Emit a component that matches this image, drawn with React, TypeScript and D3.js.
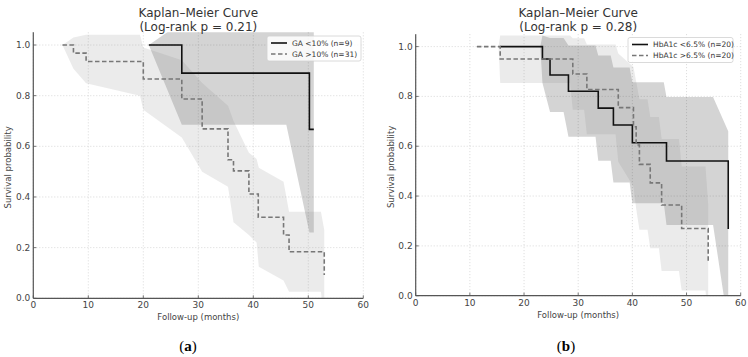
import React from "react";
import * as d3 from "d3";

// ---------- Panel (a): GA ----------
const gaLowTime = [21, 27, 50.2, 51];
const gaLowSurv = [1.0, 0.889, 0.667, 0.667];
const gaLowBandTime = [21, 27, 46.0, 50.2, 51];
const gaLowBandLo = [1.0, 0.685, 0.685, 0.26, 0.26];
const gaLowBandHi = [1.0, 1.09, 1.09, 1.07, 1.07];

const gaHighTime = [5.3, 7.3, 9.6, 20.0, 27.0, 30.7, 35.4, 36.4, 39.2, 40.9, 45.5, 46.5, 52.9];
const gaHighSurv = [1.0, 0.968, 0.935, 0.866, 0.787, 0.669, 0.547, 0.503, 0.412, 0.32, 0.25, 0.184, 0.092];
const gaHighBandTime = [5.3, 7.3, 9.6, 19.4, 20.0, 27.0, 30.7, 35.4, 36.4, 39.2, 40.6, 41.0, 45.5, 46.5, 52.3, 52.9];
const gaHighBandLo = [1.0, 0.906, 0.849, 0.8, 0.744, 0.635, 0.5, 0.44, 0.3, 0.25, 0.22, 0.125, 0.07, 0.026, 0.026, -0.09];
const gaHighBandHi = [1.0, 1.03, 1.04, 1.04, 0.99, 0.94, 0.85, 0.76, 0.7, 0.575, 0.55, 0.515, 0.46, 0.342, 0.342, 0.27];

// ---------- Panel (b): HbA1c ----------
const hbLowTime = [15.6, 23.4, 24.8, 28.2, 33.7, 36.5, 40.0, 46.3, 57.7];
const hbLowSurv = [1.0, 0.95, 0.886, 0.821, 0.753, 0.685, 0.614, 0.541, 0.268];
const hbLowBandTime = [15.6, 23.0, 23.4, 24.8, 27.3, 28.2, 33.2, 33.7, 36.0, 36.5, 39.5, 40.0, 45.8, 46.3, 54.9, 57.7];
const hbLowBandLo = [1, 1, 0.854, 0.737, 0.737, 0.638, 0.638, 0.542, 0.542, 0.454, 0.454, 0.371, 0.371, 0.284, 0.284, -0.12];
const hbLowBandHi = [1, 1, 1.045, 1.035, 1.035, 1.004, 1.004, 0.964, 0.964, 0.916, 0.916, 0.857, 0.857, 0.798, 0.798, 0.66];

const hbHighTime = [11.3, 15.6, 29.0, 31.6, 37.4, 40.2, 40.7, 41.3, 43.3, 45.4, 49.1, 54.0];
const hbHighSurv = [1.0, 0.95, 0.89, 0.828, 0.755, 0.678, 0.605, 0.527, 0.453, 0.364, 0.27, 0.137];
const hbHighBandTime = [15.3, 15.6, 28.5, 29.0, 31.1, 31.6, 36.9, 37.4, 40.2, 40.7, 41.3, 42.8, 43.3, 44.9, 45.4, 48.6, 49.1, 53.5, 54.0];
const hbHighBandLo = [1, 0.854, 0.854, 0.746, 0.746, 0.648, 0.648, 0.538, 0.438, 0.35, 0.265, 0.265, 0.19, 0.19, 0.099, 0.099, 0.021, 0.021, -0.091];
const hbHighBandHi = [1, 1.045, 1.045, 1.034, 1.034, 1.008, 1.008, 0.972, 0.918, 0.86, 0.789, 0.789, 0.717, 0.717, 0.629, 0.629, 0.519, 0.519, 0.365];

const xTicks = [0, 10, 20, 30, 40, 50, 60];
const yTicks = [0.0, 0.2, 0.4, 0.6, 0.8, 1.0];

type Series = {
  time: number[];
  surv: number[];
  bandTime: number[];
  bandLo: number[];
  bandHi: number[];
  label: string;
  dashed: boolean;
};

type PanelProps = {
  id: string;
  left: number;
  right: number;
  yZero: number;
  yOne: number;
  pvalue: string;
  caption: string;
  captionX: number;
  series: Series[];
  legendX: number;
  legendY: number;
  legendW: number;
};

const FONT = "DejaVu Sans, Liberation Sans, sans-serif";

function Panel(p: PanelProps) {
  const x = d3.scaleLinear().domain([0, 60]).range([p.left, p.right]);
  const y = d3.scaleLinear().domain([0, 1]).range([p.yZero, p.yOne]);
  const top = y(1.05);
  const cx = (p.left + p.right) / 2;

  const line = d3
    .line<[number, number]>()
    .x((d) => x(d[0]))
    .y((d) => y(d[1]))
    .curve(d3.curveStepAfter);

  const area = d3
    .area<[number, number, number]>()
    .x((d) => x(d[0]))
    .y0((d) => y(d[1]))
    .y1((d) => y(d[2]));

  const clipId = `clip-${p.id}`;

  return (
    <g>
      <defs>
        <clipPath id={clipId}>
          <rect x={p.left} y={top} width={p.right - p.left} height={p.yZero - top} />
        </clipPath>
      </defs>
      {/* grid */}
      {yTicks.map((t) => (
        <line
          key={"gy" + t}
          x1={p.left}
          x2={p.right}
          y1={y(t)}
          y2={y(t)}
          stroke="#c8c8c8"
          strokeWidth={0.7}
          strokeDasharray="1,2"
        />
      ))}
      {xTicks.map((t) => (
        <line
          key={"gx" + t}
          x1={x(t)}
          x2={x(t)}
          y1={top}
          y2={p.yZero}
          stroke="#c8c8c8"
          strokeWidth={0.7}
          strokeDasharray="1,2"
        />
      ))}
      {/* bands */}
      <g clipPath={`url(#${clipId})`}>
        {p.series.map((s, i) => {
          const pts = s.bandTime.map((t, j) => [t, s.bandLo[j], s.bandHi[j]] as [number, number, number]);
          return (
            <path
              key={"b" + i}
              d={area(pts) || ""}
              fill={s.dashed ? "#808080" : "#000000"}
              fillOpacity={s.dashed ? 0.16 : 0.17}
              stroke="none"
            />
          );
        })}
        {p.series.map((s, i) => {
          const pts = s.time.map((t, j) => [t, s.surv[j]] as [number, number]);
          return (
            <path
              key={"l" + i}
              d={line(pts) || ""}
              fill="none"
              stroke={s.dashed ? "#777777" : "#111111"}
              strokeWidth={1.6}
              strokeDasharray={s.dashed ? "4.5,2.5" : undefined}
            />
          );
        })}
      </g>
      {/* spines */}
      <line x1={p.left} x2={p.left} y1={top} y2={p.yZero} stroke="#555" strokeWidth={1.2} />
      <line x1={p.left} x2={p.right} y1={p.yZero} y2={p.yZero} stroke="#555" strokeWidth={1.2} />
      {/* ticks */}
      {xTicks.map((t) => (
        <g key={"xt" + t}>
          <line x1={x(t)} x2={x(t)} y1={p.yZero} y2={p.yZero - 3} stroke="#555" strokeWidth={0.8} />
          <text
            x={x(t)}
            y={p.yZero + 10}
            textAnchor="middle"
            fontSize={9}
            fontFamily={FONT}
            fill="#444"
          >
            {t}
          </text>
        </g>
      ))}
      {yTicks.map((t) => (
        <g key={"yt" + t}>
          <line x1={p.left} x2={p.left + 3} y1={y(t)} y2={y(t)} stroke="#555" strokeWidth={0.8} />
          <text
            x={p.left - 3}
            y={y(t) + 3}
            textAnchor="end"
            fontSize={9}
            fontFamily={FONT}
            fill="#444"
          >
            {t.toFixed(1)}
          </text>
        </g>
      ))}
      {/* axis labels */}
      <text x={cx} y={p.yZero + 22} textAnchor="middle" fontSize={8.5} fontFamily={FONT} fill="#444">
        Follow-up (months)
      </text>
      <text
        transform={`translate(${p.left - 22},${(top + p.yZero) / 2 + 2}) rotate(-90)`}
        textAnchor="middle"
        fontSize={8.5}
        fontFamily={FONT}
        fill="#444"
      >
        Survival probability
      </text>
      {/* title */}
      <text x={cx} y={17} textAnchor="middle" fontSize={12} fontFamily={FONT} fill="#333">
        Kaplan–Meier Curve
      </text>
      <text x={cx} y={31} textAnchor="middle" fontSize={12} fontFamily={FONT} fill="#333">
        {`(Log-rank p = ${p.pvalue})`}
      </text>
      {/* legend */}
      <rect
        x={p.legendX}
        y={p.legendY}
        width={p.legendW}
        height={25}
        rx={2}
        fill="#fff"
        fillOpacity={0.85}
        stroke="#d0d0d0"
        strokeWidth={0.8}
      />
      {p.series.map((s, i) => {
        const ly = p.legendY + 7 + i * 11;
        return (
          <g key={"lg" + i}>
            <line
              x1={p.legendX + 4}
              x2={p.legendX + 20}
              y1={ly}
              y2={ly}
              stroke={s.dashed ? "#777777" : "#111111"}
              strokeWidth={1.6}
              strokeDasharray={s.dashed ? "4.5,2.5" : undefined}
            />
            <text x={p.legendX + 25} y={ly + 2.7} fontSize={7.5} fontFamily={FONT} fill="#333">
              {s.label}
            </text>
          </g>
        );
      })}
      {/* caption */}
      <text x={p.captionX} y={351} textAnchor="middle" fontSize={15} fontFamily="Liberation Serif, DejaVu Serif, serif" fill="#000">
        (<tspan fontWeight="bold">{p.caption}</tspan>)
      </text>
    </g>
  );
}

export default function App() {
  const seriesA: Series[] = [
    { time: gaLowTime, surv: gaLowSurv, bandTime: gaLowBandTime, bandLo: gaLowBandLo, bandHi: gaLowBandHi, label: "GA <10% (n=9)", dashed: false },
    { time: gaHighTime, surv: gaHighSurv, bandTime: gaHighBandTime, bandLo: gaHighBandLo, bandHi: gaHighBandHi, label: "GA >10% (n=31)", dashed: true },
  ];
  const seriesB: Series[] = [
    { time: hbLowTime, surv: hbLowSurv, bandTime: hbLowBandTime, bandLo: hbLowBandLo, bandHi: hbLowBandHi, label: "HbA1c <6.5% (n=20)", dashed: false },
    { time: hbHighTime, surv: hbHighSurv, bandTime: hbHighBandTime, bandLo: hbHighBandLo, bandHi: hbHighBandHi, label: "HbA1c >6.5% (n=20)", dashed: true },
  ];
  return (
    <div style={{ position: "fixed", left: 0, top: 0 }}>
      <svg width={748} height={357} style={{ display: "block", background: "#fff" }}>
        <Panel
          id="a"
          left={33.3}
          right={363.3}
          yZero={298.3}
          yOne={45}
          pvalue="0.21"
          caption="a"
          captionX={188}
          series={seriesA}
          legendX={267}
          legendY={36}
          legendW={94}
        />
        <Panel
          id="b"
          left={415.7}
          right={740.7}
          yZero={295.7}
          yOne={46.6}
          pvalue="0.28"
          caption="b"
          captionX={566}
          series={seriesB}
          legendX={628}
          legendY={37.5}
          legendW={105}
        />
      </svg>
    </div>
  );
}
